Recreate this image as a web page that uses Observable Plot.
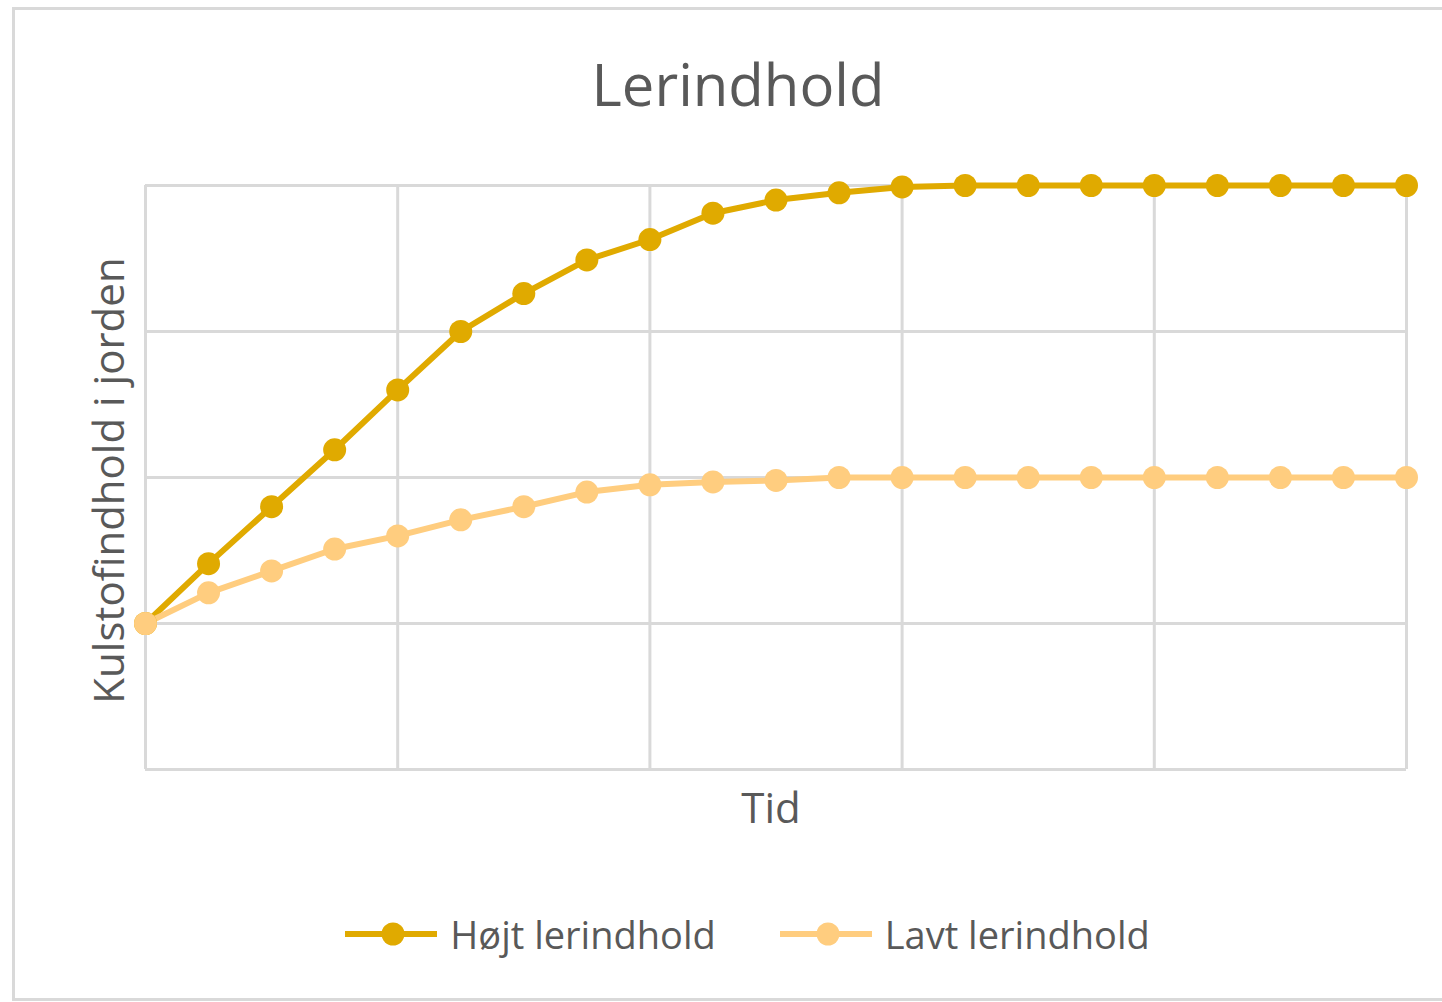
<!DOCTYPE html>
<html>
<head>
<meta charset="utf-8">
<script src="https://cdn.jsdelivr.net/npm/d3@7"></script>
<script src="https://cdn.jsdelivr.net/npm/@observablehq/plot@0.6"></script>
<style>
  html, body { margin: 0; padding: 0; background: #fff; overflow: hidden; }
  #wrap { position: relative; width: 1442px; height: 1002px; overflow: hidden; font-family: "Open Sans", "Noto Sans", sans-serif; color: #595959; }
  #frame { position: absolute; left: 12px; top: 7px; width: 1460px; height: 994px; border: 3px solid #d9d9d9; border-right: none; box-sizing: border-box; }
  #title { position: absolute; left: 0; width: 1476px; top: 55px; text-align: center; font-size: 58px; line-height: 1; }
  #chart { position: absolute; left: 0; top: 0; }
  #legend { position: absolute; left: 0; top: 912px; width: 1495px; display: flex; justify-content: center; align-items: center; font-size: 38px; line-height: 44px; }
  .item { display: flex; align-items: center; }
  .item svg { margin-right: 13px; }
  .item + .item { margin-left: 64px; }
</style>
</head>
<body>
<div id="wrap">
  <div id="frame"></div>
  <div id="chart"></div>
  <div id="title"></div>
  <div id="legend"></div>
</div>
<script>
const titleText = "Lerindhold";
const yLabel = "Kulstofindhold i jorden";
const xLabel = "Tid";
const seriesNames = ["Højt lerindhold", "Lavt lerindhold"];
const seriesColors = ["#E0AA00", "#FFCD7F"];
const time = [0,1,2,3,4,5,6,7,8,9,10,11,12,13,14,15,16,17,18,19,20];
const highClay = [1.0,1.41,1.80,2.19,2.60,3.0,3.26,3.49,3.63,3.81,3.90,3.95,3.99,4.0,4.0,4.0,4.0,4.0,4.0,4.0,4.0];
const lowClay = [1.0,1.21,1.36,1.51,1.60,1.71,1.80,1.90,1.95,1.97,1.98,2.0,2.0,2.0,2.0,2.0,2.0,2.0,2.0,2.0,2.0];
const xGrid = [0,4,8,12,16,20];
const yGrid = [0,1,2,3,4];

const rows = [];
[highClay, lowClay].forEach((vals, s) => {
  vals.forEach((v, i) => rows.push({series: seriesNames[s], t: time[i], v}));
});

const chart = Plot.plot({
  width: 1442,
  height: 1002,
  marginLeft: 145,
  marginRight: 36,
  marginTop: 185,
  marginBottom: 233,
  style: {background: "transparent", fontFamily: "'Open Sans', 'Noto Sans', sans-serif", color: "#595959", overflow: "visible"},
  x: {domain: [0, 20], axis: null},
  y: {domain: [0, 4], axis: null},
  color: {domain: seriesNames, range: seriesColors},
  marks: [
    Plot.gridX(xGrid, {stroke: "#d9d9d9", strokeOpacity: 1, strokeWidth: 3}),
    Plot.gridY(yGrid, {stroke: "#d9d9d9", strokeOpacity: 1, strokeWidth: 3}),
    Plot.line(rows, {x: "t", y: "v", z: "series", stroke: "series", strokeWidth: 6, strokeLinejoin: "round"}),
    Plot.dot(rows, {x: "t", y: "v", fill: "series", r: 11.5, stroke: null}),
    Plot.text([yLabel], {text: d => d, frameAnchor: "left", textAnchor: "middle", lineAnchor: "middle", dx: -35, dy: 3, rotate: -90, fontSize: 42, fill: "#595959"}),
    Plot.text([xLabel], {text: d => d, frameAnchor: "bottom", textAnchor: "middle", lineAnchor: "middle", dx: -5, dy: 40, fontSize: 42, fill: "#595959"})
  ]
});
document.getElementById("chart").appendChild(chart);
document.getElementById("title").textContent = titleText;

const legend = document.getElementById("legend");
seriesNames.forEach((name, i) => {
  const item = document.createElement("div");
  item.className = "item";
  item.innerHTML = `<svg width="92" height="30" viewBox="0 0 92 30"><line x1="0" y1="15" x2="92" y2="15" stroke="${seriesColors[i]}" stroke-width="6"/><circle cx="48" cy="15" r="11.5" fill="${seriesColors[i]}"/></svg><span>${name}</span>`;
  legend.appendChild(item);
});
</script>
</body>
</html>
